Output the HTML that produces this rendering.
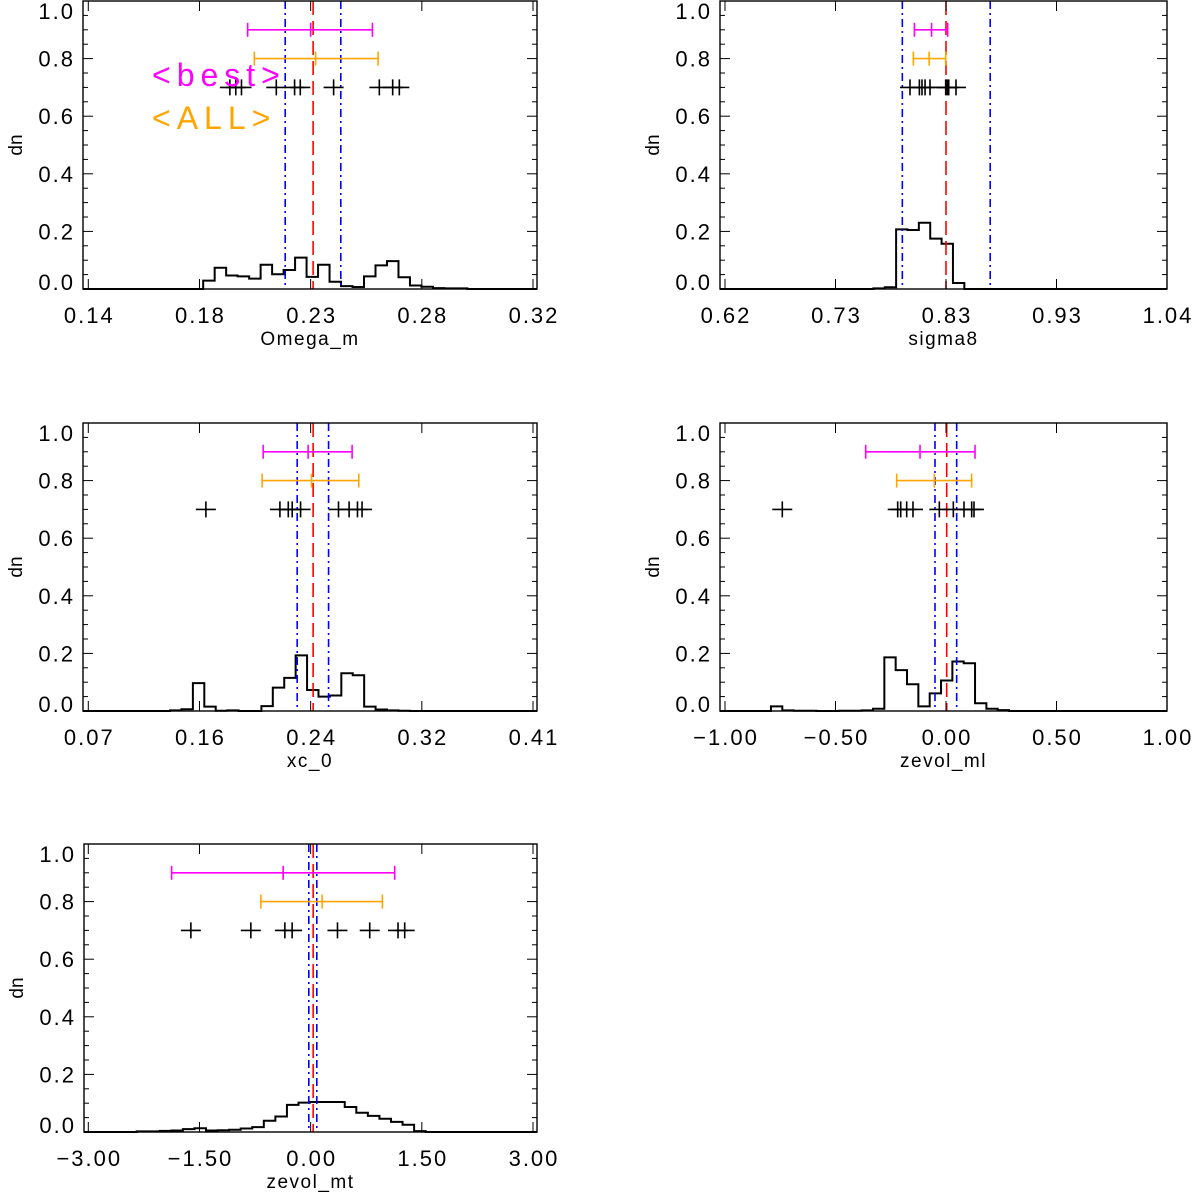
<!DOCTYPE html>
<html><head><meta charset="utf-8"><style>
html,body{margin:0;padding:0;background:#fff;}
svg{display:block;font-family:"Liberation Sans",sans-serif;}
</style></head><body>
<svg id="fig" width="1200" height="1195" viewBox="0 0 1200 1195" xmlns="http://www.w3.org/2000/svg"></svg>
<script>
// ---------- data ----------
const panelTitles = ["Omega_m","sigma8","xc_0","zevol_ml","zevol_mt"];
const xTickVals = [[0.14,0.185,0.23,0.275,0.32],[0.62,0.725,0.83,0.935,1.04],[0.07,0.155,0.24,0.325,0.41],[-1,-0.5,0,0.5,1],[-3,-1.5,0,1.5,3]];
const xTickLabels = [["0.14","0.18","0.23","0.28","0.32"],["0.62","0.73","0.83","0.93","1.04"],["0.07","0.16","0.24","0.32","0.41"],["\u22121.00","\u22120.50","0.00","0.50","1.00"],["\u22123.00","\u22121.50","0.00","1.50","3.00"]];
const yTickVals = [0,0.2,0.4,0.6,0.8,1.0];
const yTickLabels = ["0.0","0.2","0.4","0.6","0.8","1.0"];
const histStart = [0.1865,0.761,0.1325,-0.792,-2.348];
const histBinW = [0.00465,0.0108,0.00873,0.0513,0.156];
const hist1 = [0.029,0.074,0.047,0.044,0.036,0.084,0.051,0.066,0.109,0.042,0.084,0.025,0.010,0.007,0.044,0.082,0.097,0.041,0.012,0.008,0.003,0.002,0.002];
const hist2 = [0.002,0.006,0.207,0.205,0.230,0.175,0.157,0.021];
const hist3 = [0.002,0.006,0.097,0.015,0.001,0.002,0.0,0.0,0.017,0.081,0.115,0.193,0.073,0.050,0.054,0.131,0.124,0.015,0.005,0.002,0.001];
const hist4 = [0.016,0.002,0.001,0.001,0.0,0.0,0.001,0.001,0.002,0.008,0.186,0.142,0.093,0.016,0.061,0.106,0.172,0.166,0.027,0.008,0.003];
const hist5 = [0.002,0.002,0.004,0.005,0.010,0.013,0.005,0.006,0.008,0.012,0.017,0.039,0.054,0.094,0.102,0.104,0.104,0.104,0.087,0.067,0.056,0.046,0.035,0.025,0.003];
const bestLo = [0.2045,0.8000,0.2037,-0.3634,-1.876];
const bestMid = [0.2300,0.8163,0.2381,-0.1176,-0.371];
const bestHi = [0.2550,0.8316,0.2717,0.1313,1.134];
const allLo = [0.2072,0.7990,0.2029,-0.2231,-0.672];
const allMid = [0.2320,0.8140,0.2407,-0.0528,0.155];
const allHi = [0.2573,0.8297,0.2768,0.1162,0.968];
const redLine = [0.231,0.830,0.2419,0.0032,0.034];
const blueLo = [0.2197,0.7885,0.2297,-0.0498,-0.025];
const blueHi = [0.2422,0.872,0.2537,0.0483,0.083];
const pts1 = [0.1973,0.1997,0.2020,0.2161,0.2235,0.2258,0.2393,0.2578,0.2632,0.2659];
const pts2 = [0.7958,0.8047,0.8072,0.8101,0.8148,0.8297,0.8313,0.8326,0.8395];
const pts3 = [0.1599,0.2165,0.2229,0.2259,0.2323,0.2613,0.2694,0.2758,0.2793];
const pts4 = [-0.7407,-0.2186,-0.2050,-0.1779,-0.1494,-0.0302,0.0332,0.0815,0.1162,0.1267];
const pts5 = [-1.616,-0.807,-0.348,-0.250,0.362,0.797,1.179,1.269];
const bestY = 0.9, allY = 0.8, ptsY = 0.7;

// ---------- layout ----------
const hists=[hist1,hist2,hist3,hist4,hist5];
const ptsAll=[pts1,pts2,pts3,pts4,pts5];
const boxes=[{L:83,R:537,T:1,B:289,t0:88.3,t4:533},{L:720,R:1167,T:1,B:289,t0:725,t4:1167},
{L:83,R:537,T:423,B:711,t0:88.3,t4:533},{L:720,R:1167,T:423,B:711,t0:725,t4:1167},
{L:84,R:537,T:844,B:1132,t0:88.3,t4:533}];
const NS="http://www.w3.org/2000/svg";
const svg=document.getElementById('fig');
function mk(tag,attrs,parent){const e=document.createElementNS(NS,tag);for(const k in attrs)e.setAttribute(k,attrs[k]);(parent||svg).appendChild(e);return e;}

boxes.forEach((b,i)=>{
  const g=mk('g',{});
  
  
  const tv=xTickVals[i];
  const xs=v=>b.t0+(v-tv[0])/(tv[4]-tv[0])*(b.t4-b.t0);
  const ys=v=>b.B-v*(b.B-b.T);
  const h=hists[i];let d='M'+b.L+','+b.B+' L'+xs(histStart[i])+','+b.B;
  h.forEach((v,k)=>{const x0=xs(histStart[i]+k*histBinW[i]),x1=xs(histStart[i]+(k+1)*histBinW[i]);d+=' L'+x0+','+ys(v)+' L'+x1+','+ys(v);});
  d+=' L'+xs(histStart[i]+h.length*histBinW[i])+','+b.B+' L'+b.R+','+b.B;
  const hp=mk('path',{d:d,fill:'none',stroke:'#000','stroke-width':2},g);
  
  
  [[blueLo[i],'#0000ff','8,4,2,4'],[blueHi[i],'#0000ff','8,4,2,4'],[redLine[i],'#ff0000','14,6']].forEach((a,k)=>{
    const l=mk('line',{x1:xs(a[0]),x2:xs(a[0]),y1:b.T,y2:b.B,stroke:a[1],'stroke-width':1.6,'stroke-dasharray':a[2]},g);
    
    
  });
  [[bestLo,bestMid,bestHi,bestY,'#ff00ff','best-errorbar'],[allLo,allMid,allHi,allY,'#ffa500','all-errorbar']].forEach(a=>{
    const eg=mk('g',{stroke:a[4],'stroke-width':1.6},g);
    
    
    const y=ys(a[3]);
    mk('line',{x1:xs(a[0][i]),x2:xs(a[2][i]),y1:y,y2:y},eg);
    [a[0][i],a[1][i],a[2][i]].forEach(v=>mk('line',{x1:xs(v),x2:xs(v),y1:y-7,y2:y+7},eg));
  });
  ptsAll[i].forEach(v=>{
    const x=xs(v),y=ys(ptsY);
    const p=mk('path',{d:'M'+(x-10)+','+y+'H'+(x+10)+'M'+x+','+(y-8)+'V'+(y+8),stroke:'#000','stroke-width':1.6,fill:'none'},g);
    
    
  });
  const bx=mk('rect',{x:b.L,y:b.T,width:b.R-b.L,height:b.B-b.T,fill:'none',stroke:'#000','stroke-width':1.4},g);
  
  
  for(let k=0;k<=20;k++){const v=k*0.05,y=ys(v),len=(k%4==0)?10:5;
    mk('line',{x1:b.L,x2:b.L+len,y1:y,y2:y,stroke:'#000','stroke-width':1},g);
    mk('line',{x1:b.R,x2:b.R-len,y1:y,y2:y,stroke:'#000','stroke-width':1},g);}
  yTickVals.forEach((v,k)=>{let y=ys(v);if(k==0)y-=7;if(k==5)y+=10;
    const t=mk('text',{x:b.L-8,y:y+8,'text-anchor':'end','font-size':22,'letter-spacing':2},g);t.textContent=yTickLabels[k];
    
    });
  tv.forEach((v,k)=>{const x=xs(v);
    mk('line',{x1:x,x2:x,y1:b.B,y2:b.B-10,stroke:'#000','stroke-width':1},g);
    mk('line',{x1:x,x2:x,y1:b.T,y2:b.T+10,stroke:'#000','stroke-width':1},g);
    const t=mk('text',{x:x+1,y:b.B+34,'text-anchor':'middle','font-size':22,'letter-spacing':2},g);t.textContent=xTickLabels[i][k];
    
    });
  const xt=mk('text',{x:(b.L+b.R)/2,y:b.B+56,'text-anchor':'middle','font-size':19,'letter-spacing':1.5},g);xt.textContent=panelTitles[i];
  
  
  const cy=(b.T+b.B)/2,cx=b.L-61;
  const yt=mk('text',{x:cx,y:cy,'text-anchor':'middle','font-size':19,transform:'rotate(-90 '+cx+' '+cy+')'},g);yt.textContent='dn';
  
  
});
const lb=mk('text',{x:152,y:86,'font-size':32,fill:'#ff00ff','letter-spacing':6});lb.textContent='<best>';


const la=mk('text',{x:152,y:129,'font-size':32,fill:'#ffa500','letter-spacing':6});la.textContent='<ALL>';


</script>
</body></html>
